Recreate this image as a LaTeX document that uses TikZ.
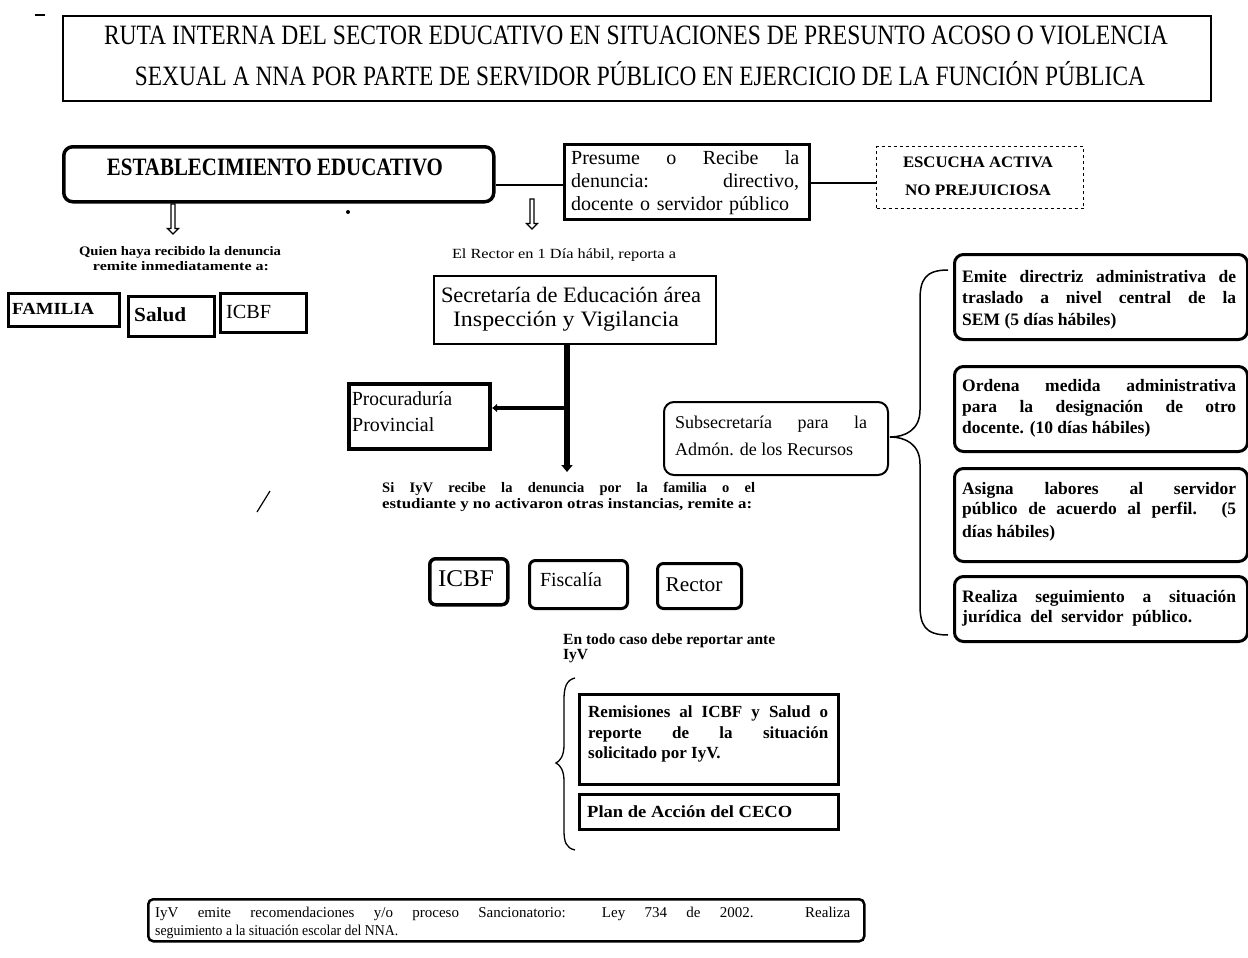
\documentclass[tikz,border=0pt]{standalone}
\usepackage{fontspec}
\setmainfont{Liberation Serif}
\usetikzlibrary{shapes.arrows,arrows.meta}
\newcommand{\fitw}[2]{\resizebox{#1}{\height}{#2}}
\newcommand{\jl}[2]{\sbox0{#2}\ifdim\wd0>#1\relax\resizebox{#1}{\height}{#2}\else\makebox[#1][s]{#2}\fi}
\begin{document}
\begin{tikzpicture}[x=1pt,y=-1pt,
  box/.style={draw,line width=#1,anchor=north west,inner sep=0pt},
  box/.default=2.5pt,
  rbox/.style={box=#1,rounded corners=9pt},
  rbox/.default=3pt,
  txt/.style={inner sep=0pt},
  ln/.style={inner sep=0pt,anchor=base west},
  lc/.style={inner sep=0pt,anchor=base},
  hollow/.style={single arrow,draw,line width=1.3pt,rotate=-90,minimum height=30pt,minimum width=11pt,single arrow head extend=3pt,inner sep=1pt},
  conn/.style={line width=1.5pt},
  f/.style={font=\fontsize{#1}{#1}\selectfont},
  fb/.style={font=\fontsize{#1}{#1}\bfseries}
]
\useasboundingbox (0,0) rectangle (1248,958);
% title
\draw[line width=1.5pt] (35,15) -- (45,15);
\node[box=2pt,minimum width=1148pt,minimum height=85pt] (title) at (62,15) {};
\node[lc,f=28] (t1) at (636,45) {\fitw{1064pt}{RUTA INTERNA DEL SECTOR EDUCATIVO EN SITUACIONES DE PRESUNTO ACOSO O VIOLENCIA}};
\node[lc,f=28] (t2) at (640,85) {\fitw{1010pt}{SEXUAL A NNA POR PARTE DE SERVIDOR PÚBLICO EN EJERCICIO DE LA FUNCIÓN PÚBLICA}};
% establecimiento
\node[rbox=3.5pt,minimum width=430pt,minimum height=55pt] (est) at (62,145) {};
\node[lc,fb=25] (estt) at (275,175) {\fitw{336pt}{ESTABLECIMIENTO EDUCATIVO}};
% presume
\node[box=2.5pt,minimum width=245pt,minimum height=75pt] (pres) at (563,143) {};
\node[ln,f=20] (p1) at (571,164) {\jl{228pt}{Presume o Recibe la}};
\node[ln,f=20] (p2) at (571,187) {\jl{228pt}{denuncia: directivo,}};
\node[ln,f=20] (p3) at (571,210) {\jl{218pt}{docente o servidor público}};
% escucha
\node[box=1.2pt,dashed,minimum width=207pt,minimum height=62pt] (esc) at (876,146) {};
\node[lc,fb=16] (e1) at (978,167) {\fitw{150pt}{ESCUCHA ACTIVA}};
\node[lc,fb=16] (e2) at (978,195) {\fitw{146pt}{NO PREJUICIOSA}};
\draw[conn] (est.east |- 0,185) -- (pres.west |- 0,185);
\draw[conn] (pres.east |- 0,183) -- (esc.west |- 0,183);
% left branch
\node[hollow] (a1) at (173,218) {};
\node[lc,fb=13] (q1) at (180,255) {\fitw{202pt}{Quien haya recibido la denuncia}};
\node[lc,fb=13] (q2) at (181,270) {\fitw{176pt}{remite inmediatamente a:}};
\node[box=2.5pt,minimum width=111pt,minimum height=33pt] (fam) at (7,292) {};
\node[ln,fb=17] (famt) at (12,314) {\fitw{82pt}{FAMILIA}};
\node[box=2.5pt,minimum width=86pt,minimum height=40pt] (sal) at (127,295) {};
\node[ln,fb=20] (salt) at (134,321) {\fitw{52pt}{Salud}};
\node[box=2.5pt,minimum width=86pt,minimum height=39pt] (icbfa) at (219,292) {};
\node[ln,f=20] (icbfat) at (226,318) {\fitw{45pt}{ICBF}};
\fill (348,212) circle (2pt);
% center branch
\node[hollow] (a2) at (532,213) {};
\node[lc,f=14] (rect) at (564,258) {\fitw{224pt}{El Rector en 1 Día hábil, reporta a}};
\node[box=1.5pt,minimum width=282pt,minimum height=68pt] (sec) at (433,275) {};
\node[lc,f=22] (sec1) at (571,302) {\fitw{260pt}{Secretaría de Educación área}};
\node[lc,f=22] (sec2) at (566,326) {\fitw{226pt}{Inspección y Vigilancia}};
\node[box=4pt,minimum width=141pt,minimum height=65pt] (proc) at (347,382) {};
\node[ln,f=20] (pr1) at (352,405) {\fitw{100pt}{Procuraduría}};
\node[ln,f=20] (pr2) at (352,431) {Provincial};
\coordinate (junc) at (567,408);
\coordinate (vend) at (567,472);
\draw[line width=6pt] (sec.south -| junc) -- (junc);
\draw[line width=6pt,-{Triangle[length=7pt,width=11pt]}] (junc) -- (vend);
\draw[line width=4pt,-{Latex[length=5pt,width=9pt]}] (junc) -- (proc.east |- junc);
\node[ln,fb=14.5] (s1) at (382,492) {\jl{373pt}{Si IyV recibe la denuncia por la familia o el}};
\node[ln,fb=14.5] (s2) at (382,508) {\fitw{370pt}{estudiante y no activaron otras instancias, remite a:}};
\draw[line width=1.2pt] (257,512) -- (270,491);
\node[rbox=3.5pt,rounded corners=6pt,minimum width=78pt,minimum height=46pt] (icbfb) at (428,557) {};
\node[lc,f=24] (icbfbt) at (466,586) {\fitw{56pt}{ICBF}};
\node[rbox=3pt,rounded corners=6pt,minimum width=98pt,minimum height=48pt] (fis) at (528,559) {};
\node[lc,f=20] (fist) at (571,586) {\fitw{62pt}{Fiscalía}};
\node[rbox=3pt,rounded corners=6pt,minimum width=84pt,minimum height=45pt] (rec) at (656,562) {};
\node[lc,f=21] (rect2) at (694,591) {\fitw{57pt}{Rector}};
% subsecretaria
\node[rbox=2pt,rounded corners=10pt,minimum width=224pt,minimum height=73pt] (sub) at (663,401) {};
\node[ln,f=18] (sb1) at (675,428) {\jl{192pt}{Subsecretaría para la}};
\node[ln,f=18] (sb2) at (675,455) {\fitw{178pt}{Admón. de los Recursos}};
% right brace
\coordinate (bt) at (948,270);
\coordinate (bb) at (948,635);
\coordinate (btip) at (890,437);
\draw[line width=1.5pt] (bt) .. controls (925,270) and (920,280) .. (920,300) -- (920,410)
  .. controls (920,430) and (905,437) .. (btip) .. controls (905,437) and (920,444) .. (920,464)
  -- (920,605) .. controls (920,625) and (925,635) .. (bb);
% right boxes
\node[rbox=3pt,minimum width=293pt,minimum height=85pt] (r1) at (953,253) {};
\node[ln,fb=17.5] (r11) at (962,282) {\jl{274pt}{Emite directriz administrativa de}};
\node[ln,fb=17.5] (r12) at (962,303) {\jl{274pt}{traslado a nivel central de la}};
\node[ln,fb=17.5] (r13) at (962,325) {SEM (5 días hábiles)};
\node[rbox=3pt,minimum width=293pt,minimum height=85pt] (r2) at (953,365) {};
\node[ln,fb=17.5] (r21) at (962,391) {\jl{274pt}{Ordena medida administrativa}};
\node[ln,fb=17.5] (r22) at (962,412) {\jl{274pt}{para la designación de otro}};
\node[ln,fb=17.5] (r23) at (962,433) {docente. (10 días hábiles)};
\node[rbox=3pt,minimum width=293pt,minimum height=93pt] (r3) at (953,467) {};
\node[ln,fb=17.5] (r31) at (962,494) {\jl{274pt}{Asigna labores al servidor}};
\node[ln,fb=17.5] (r32) at (962,514) {\jl{274pt}{público de acuerdo al perfil. (5}};
\node[ln,fb=17.5] (r33) at (962,537) {días hábiles)};
\node[rbox=3pt,minimum width=293pt,minimum height=65pt] (r4) at (953,575) {};
\node[ln,fb=17.5] (r41) at (962,602) {\jl{274pt}{Realiza seguimiento a situación}};
\node[ln,fb=17.5] (r42) at (962,622) {\jl{230pt}{jurídica del servidor público.}};
% en todo caso
\node[ln,fb=15.5] (todo1) at (563,644) {\fitw{212pt}{En todo caso debe reportar ante}};
\node[ln,fb=15.5] (todo2) at (563,659) {IyV};
\coordinate (lbt) at (575,678);
\coordinate (lbb) at (575,850);
\coordinate (lbtip) at (556,763);
\draw[line width=1.3pt] (lbt) .. controls (566,680) and (564,688) .. (564,700) -- (564,745)
  .. controls (564,756) and (560,761) .. (lbtip) .. controls (560,765) and (564,770) .. (564,781)
  -- (564,830) .. controls (564,842) and (566,848) .. (lbb);
\node[box=3pt,minimum width=259pt,minimum height=90pt] (rem) at (578,693) {};
\node[ln,fb=17] (rm1) at (588,717) {\jl{240pt}{Remisiones al ICBF y Salud o}};
\node[ln,fb=17] (rm2) at (588,738) {\jl{240pt}{reporte de la situación}};
\node[ln,fb=17] (rm3) at (588,758) {solicitado por IyV.};
\node[box=3pt,minimum width=259pt,minimum height=35pt] (plan) at (578,793) {};
\node[ln,fb=17] (plant) at (587,817) {\fitw{205pt}{Plan de Acción del CECO}};
% bottom
\node[rbox=2.5pt,rounded corners=5pt,minimum width=716pt,minimum height=42pt] (bot) at (147,898) {};
\node[ln,f=15] (b1) at (155,917) {\jl{695pt}{IyV emite recomendaciones y/o proceso Sancionatorio: Ley 734 de 2002. Realiza}};
\node[ln,f=15] (b2) at (155,935) {\fitw{243pt}{seguimiento a la situación escolar del NNA.}};
\end{tikzpicture}
\end{document}
